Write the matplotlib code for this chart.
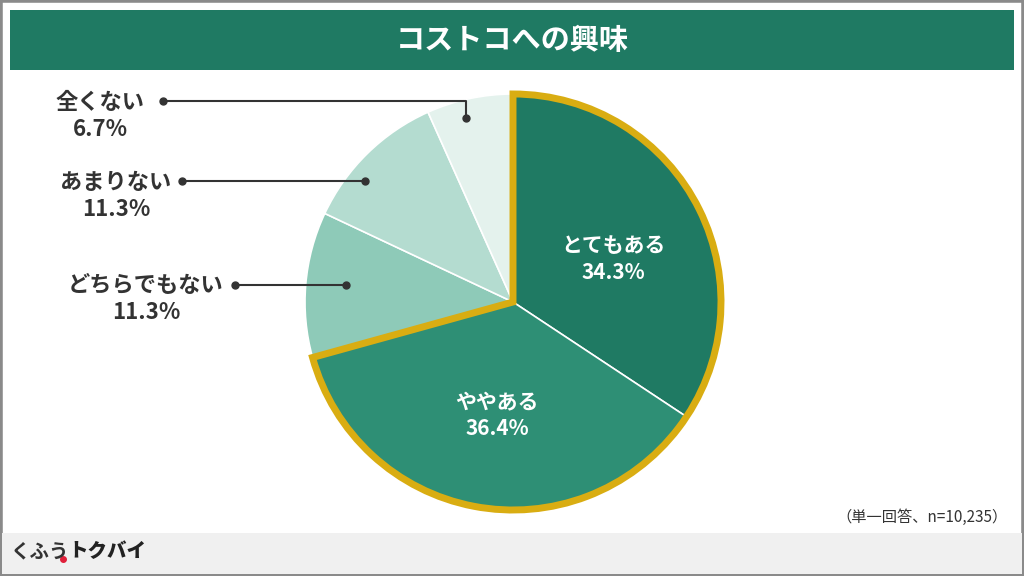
import matplotlib.pyplot as plt
from matplotlib.patches import Rectangle, Wedge

plt.rcParams['font.family'] = ['Noto Sans CJK JP', 'DejaVu Sans']

labels = ['とてもある', 'ややある', 'どちらでもない', 'あまりない', '全くない']
values = [34.3, 36.4, 11.3, 11.3, 6.7]
colors = ['#1f7a63', '#2e8f75', '#8ecab8', '#b4dcd0', '#e4f2ed']
title = 'コストコへの興味'
note = '（単一回答、n=10,235）'

W, H = 1024, 576
fig = plt.figure(figsize=(W / 100, H / 100), dpi=100)
ax = fig.add_axes([0, 0, 1, 1])


def Y(y):
    return H - y


cx, cy, r = 513, Y(302), 208
ax.pie(values, colors=colors, startangle=90, counterclock=False,
       center=(cx, cy), radius=r, frame=True,
       wedgeprops=dict(edgecolor='white', linewidth=1.2))
ax.set_xlim(0, W)
ax.set_ylim(0, H)
ax.set_aspect('equal')
ax.axis('off')

# frame, title band, footer
ax.add_patch(Rectangle((0, 0), W, H, facecolor='none', edgecolor='#8a8a8a', lw=4))
ax.add_patch(Rectangle((10, Y(70)), 1004, 60, facecolor='#1f7a63', edgecolor='none'))
ax.text(512, Y(40), title, color='white', fontsize=21, fontweight='bold', ha='center', va='center')
ax.add_patch(Rectangle((2, 2), W - 4, Y(533) - 2, facecolor='#f0f0f0', edgecolor='none'))
ax.text(10, Y(552), 'くふう', color='#333333', fontsize=14, fontweight='bold', va='center')
ax.plot([63], [Y(559)], 'o', color='#e0203a', ms=4)
ax.text(68, Y(552), 'トクバイ', color='#222222', fontsize=14, fontweight='black', va='center')
ax.text(1008, Y(517), note, color='#333333', fontsize=11, ha='right', va='center')

# gold outline around first two slices
top = values[0] + values[1]
ax.add_patch(Wedge((cx, cy), r, 90 - top * 3.6, 90, facecolor='none',
                   edgecolor='#d9ad12', lw=5, joinstyle='miter'))

# inside labels
inside = [(0, 613, 259), (1, 497, 415)]
for i, tx, ty in inside:
    ax.text(tx, Y(ty), f'{labels[i]}\n{values[i]}%', color='white', fontsize=15,
            fontweight='bold', ha='center', va='center', linespacing=1.3)

# outside labels with leader lines
outs = [(4, 100, 116, [(163, 101), (466, 101), (466, 118)]),
        (3, 116, 196, [(182, 181), (365, 181)]),
        (2, 146, 299, [(235, 285), (346, 285)])]
for i, tx, ty, pts in outs:
    ax.text(tx, Y(ty), f'{labels[i]}\n{values[i]}%', color='#333333', fontsize=16,
            fontweight='bold', ha='center', va='center', linespacing=1.25)
    xs = [p[0] for p in pts]
    ys = [Y(p[1]) for p in pts]
    ax.plot(xs, ys, color='#333333', lw=1.5)
    ax.plot([xs[0], xs[-1]], [ys[0], ys[-1]], 'o', color='#333333', ms=5)

fig.savefig('out.png', dpi=100)
